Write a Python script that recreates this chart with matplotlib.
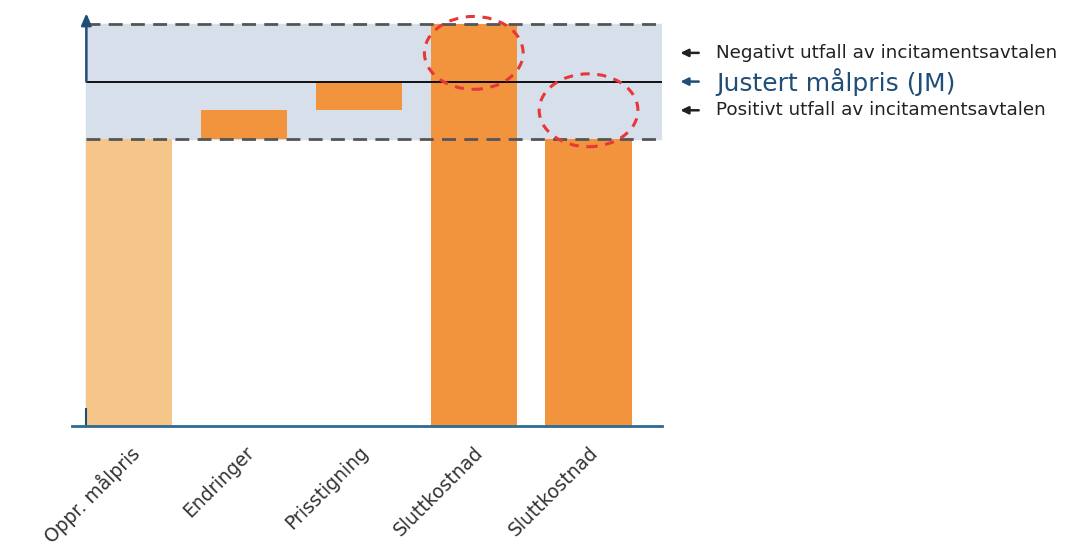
import matplotlib.pyplot as plt
from matplotlib.patches import Ellipse

# categories and values (original target price = 100)
categories = ["Oppr. målpris", "Endringer", "Prisstigning", "Sluttkostnad", "Sluttkostnad"]
bar_bottoms = [0, 100, 110, 0, 0]
bar_tops = [100, 110, 120, 140, 100]
bar_colors = ["#F6C589", "#F2933E", "#F2933E", "#F2933E", "#F2933E"]

target_low = 100     # positive outcome limit
target_jm = 120      # adjusted target price (JM)
target_high = 140    # negative outcome limit

band_labels = ["Negativt utfall av incitamentsavtalen",
               "Justert målpris (JM)",
               "Positivt utfall av incitamentsavtalen"]

axis_blue = "#1F4E79"

fig = plt.figure(figsize=(10.85, 5.45), dpi=100)
ax = fig.add_axes([72 / 1085, 119 / 545, 590 / 1085, 411 / 545])
ax.set_xlim(-0.5, 4.64)
ax.set_ylim(0, 143.2)

# shaded band between the two outcome limits
ax.axhspan(target_low, target_high, xmin=0.125 / 5.14, xmax=1, color="#D7E0EA", zorder=0)

heights = [t - b for t, b in zip(bar_tops, bar_bottoms)]
ax.bar(range(len(categories)), heights, bottom=bar_bottoms, width=0.75,
       color=bar_colors, zorder=2)

# limit lines
ax.hlines([target_low, target_high], -0.375, 4.64, colors="#555555",
          linestyles=(0, (5, 3)), lw=2, zorder=3)
ax.hlines(target_jm, -0.375, 4.64, colors="black", lw=1.3, zorder=3)

# y axis with arrow head
ax.plot([-0.375, -0.375], [0, target_low], color="#BBBBBB", lw=1, zorder=1)
ax.annotate("", xy=(-0.375, 143.8), xytext=(-0.375, target_jm),
            annotation_clip=False,
            arrowprops=dict(arrowstyle="-|>,head_width=0.3,head_length=0.7",
                            color=axis_blue, lw=1.8, shrinkA=0, shrinkB=0),
            zorder=4)
ax.plot([-0.375, -0.375], [0, 6], color=axis_blue, lw=1.5, zorder=4)

# baseline
ax.axhline(0, color="#2E6A93", lw=2, zorder=4, clip_on=False)

# red dashed circles around over / under run
for cx, cy in [(3, 130), (4, 110)]:
    ax.add_patch(Ellipse((cx, cy), 0.86, 25.4, fill=False, edgecolor="#E8373A",
                         lw=2.2, linestyle=(0, (3, 2.5)), zorder=5, clip_on=False))

for s in ax.spines.values():
    s.set_visible(False)
ax.set_yticks([])
ax.set_xticks(range(len(categories)))
ax.set_xticklabels(categories, rotation=45, ha="right", rotation_mode="anchor",
                   fontsize=13.5, color="#333333")
ax.tick_params(axis="x", length=0, pad=12)

# labels to the right of the band
label_y = [(target_high + target_jm) / 2, target_jm, (target_jm + target_low) / 2]
label_size = [13.2, 18, 13.2]
label_color = ["#222222", axis_blue, "#222222"]
for txt, y, fs, c in zip(band_labels, label_y, label_size, label_color):
    ax.annotate("", xy=(4.80, y), xytext=(4.96, y), annotation_clip=False,
                arrowprops=dict(arrowstyle="-|>,head_width=0.22,head_length=0.45",
                                color=c, lw=1.8, shrinkA=0, shrinkB=0))
    ax.text(5.11, y, txt, fontsize=fs, color=c, va="center", ha="left",
            clip_on=False)

fig.savefig("out.png", dpi=100, facecolor="white")
